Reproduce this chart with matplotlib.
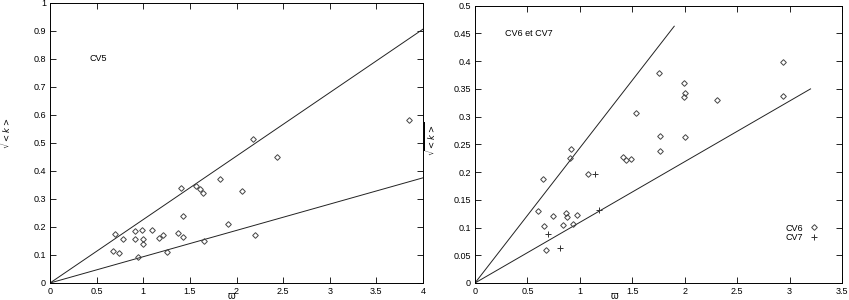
import matplotlib
matplotlib.use("Agg")
import matplotlib.pyplot as plt

plt.rcParams['font.family'] = ['Liberation Sans', 'DejaVu Sans']
plt.rcParams['font.size'] = 6.5

# CV5 data (left panel)
cv5_x = [0.70, 0.68, 0.736, 0.78, 0.91, 0.907, 0.94, 0.99, 1.0, 1.0, 1.096, 1.164,
         1.214, 1.25, 1.371, 1.407, 1.43, 1.43, 1.564, 1.604, 1.646, 1.65, 1.818,
         1.914, 2.061, 2.179, 2.2, 2.436, 3.85]
cv5_y = [0.176, 0.114, 0.107, 0.158, 0.185, 0.156, 0.094, 0.189, 0.157, 0.139, 0.188, 0.162,
         0.170, 0.111, 0.178, 0.339, 0.240, 0.164, 0.346, 0.336, 0.321, 0.151, 0.370,
         0.209, 0.327, 0.515, 0.171, 0.448, 0.581]
left_lines_x = [0, 4]
left_upper_y = [0, 0.905]
left_lower_y = [0, 0.375]

# CV6 / CV7 data (right panel)
cv6_x = [0.597, 0.653, 0.656, 0.675, 0.744, 0.844, 0.869, 0.878, 0.909, 0.912, 0.937, 0.969,
         1.075, 1.416, 1.444, 1.487, 1.534, 1.759, 1.762, 1.766, 1.997, 2.0, 1.99, 2.003,
         2.31, 2.94, 2.94]
cv6_y = [0.130, 0.187, 0.102, 0.060, 0.120, 0.105, 0.126, 0.119, 0.225, 0.241, 0.1065, 0.122,
         0.197, 0.227, 0.222, 0.223, 0.307, 0.378, 0.265, 0.238, 0.361, 0.343, 0.336, 0.264,
         0.330, 0.398, 0.338]
cv7_x = [0.697, 0.806, 1.147, 1.178]
cv7_y = [0.089, 0.064, 0.197, 0.132]
right_upper_x = [0, 1.9]
right_upper_y = [0, 0.463]
right_lower_x = [0, 3.2]
right_lower_y = [0, 0.35]

fig = plt.figure(figsize=(8.49, 3.0), dpi=100)
ax1 = fig.add_axes([50/849, 17/300, 373/849, 280.5/300])
ax2 = fig.add_axes([475/849, 17/300, 367/849, 277.3/300])

mk = dict(marker='D', markersize=2.9, markerfacecolor='none', markeredgecolor='#444444',
          markeredgewidth=0.7, linestyle='none')

for ax in (ax1, ax2):
    ax.tick_params(direction='in', top=True, right=True, length=4, width=0.6, pad=3,
                   labelsize=6.5)
    for s in ax.spines.values():
        s.set_linewidth(0.7)

ax1.plot(left_lines_x, left_upper_y, color='#222222', lw=0.7)
ax1.plot(left_lines_x, left_lower_y, color='#222222', lw=0.7)
ax1.plot(cv5_x, cv5_y, **mk)
ax1.set_xlim(0, 4)
ax1.set_ylim(0, 1)
ax1.set_xticks([0, 0.5, 1, 1.5, 2, 2.5, 3, 3.5, 4])
ax1.set_xticklabels(['0', '0.5', '1', '1.5', '2', '2.5', '3', '3.5', '4'])
ax1.set_yticks([i/10 for i in range(11)])
ax1.set_yticklabels(['0', '0.1', '0.2', '0.3', '0.4', '0.5', '0.6', '0.7', '0.8', '0.9', '1'])
ax1.text(0.42, 0.80, 'CV5', fontsize=6.5, va='center')
ax1.set_xlabel('ϖ', fontsize=7)
ax1.xaxis.set_label_coords(1.95/4, -0.03)
ax1.set_ylabel(r'$\sqrt{<k>}$', fontsize=6)
ax1.yaxis.set_label_coords(-0.098, 0.54)

ax2.plot(right_upper_x, right_upper_y, color='#222222', lw=0.7)
ax2.plot(right_lower_x, right_lower_y, color='#222222', lw=0.7)
ax2.plot(cv6_x, cv6_y, label='CV6', **mk)
ax2.plot(cv7_x, cv7_y, marker='+', markersize=4, color='#333333', markeredgewidth=0.7,
         linestyle='none', label='CV7')
ax2.set_xlim(0, 3.5)
ax2.set_ylim(0, 0.5)
ax2.set_xticks([0, 0.5, 1, 1.5, 2, 2.5, 3, 3.5])
ax2.set_xticklabels(['0', '0.5', '1', '1.5', '2', '2.5', '3', '3.5'])
ax2.set_yticks([i*0.05 for i in range(11)])
ax2.set_yticklabels(['0', '0.05', '0.1', '0.15', '0.2', '0.25', '0.3', '0.35', '0.4', '0.45', '0.5'])
ax2.text(0.29, 0.45, 'CV6 et CV7', fontsize=6.5, va='center')
ax2.set_xlabel('ϖ', fontsize=7)
ax2.xaxis.set_label_coords(1.33/3.5, -0.03)
ax2.set_ylabel(r'$\sqrt{<k>}$', fontsize=6)
ax2.yaxis.set_label_coords(-0.1, 0.52)
leg = ax2.legend(loc='lower right', bbox_to_anchor=(0.95, 0.13), frameon=False,
                 markerfirst=False, fontsize=6.5, handlelength=1.2, handletextpad=0.6,
                 labelspacing=0.1, borderpad=0)

fig.savefig('out.png', dpi=100)
